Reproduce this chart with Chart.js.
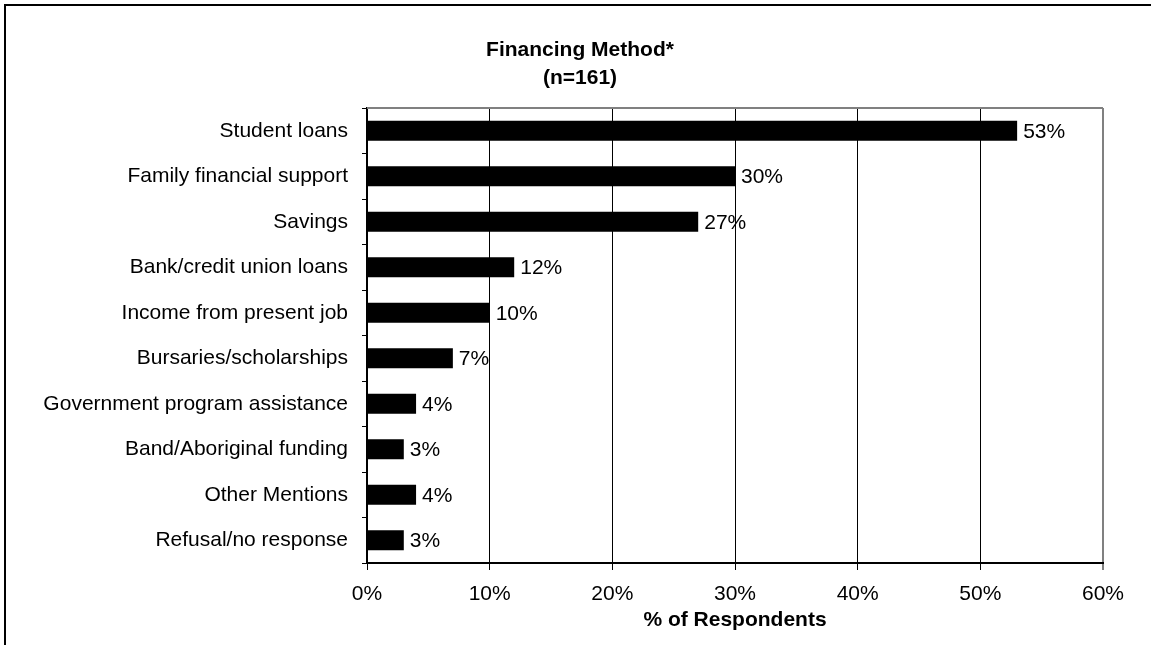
<!DOCTYPE html>
<html>
<head>
<meta charset="utf-8">
<title>Financing Method</title>
<script src="https://cdn.jsdelivr.net/npm/chart.js@4"></script>
<style>
  html, body { margin: 0; padding: 0; background: #fff; }
  #wrap { width: 1151px; height: 645px; }
</style>
</head>
<body>
<div id="wrap"><canvas id="chart" width="1151" height="645"></canvas></div>
<script>
// Survey answers: how respondents financed their studies (multiple mentions allowed)
const categories = [
  'Student loans',
  'Family financial support',
  'Savings',
  'Bank/credit union loans',
  'Income from present job',
  'Bursaries/scholarships',
  'Government program assistance',
  'Band/Aboriginal funding',
  'Other Mentions',
  'Refusal/no response'
];
const shares = [53, 30, 27, 12, 10, 7, 4, 3, 4, 3];
const titleLines = ['Financing Method*', '(n=161)'];
const axisTitle = '% of Respondents';
const xMin = 0;
const xMax = 60;
const xStep = 10;

const FONT = '"Liberation Sans", Arial, Helvetica, sans-serif';

// White page, black frame along the left and top edges, and the two-line heading
const pageFrame = {
  id: 'pageFrame',
  beforeDraw(chart) {
    const ctx = chart.ctx;
    ctx.save();
    ctx.fillStyle = '#fff';
    ctx.fillRect(0, 0, chart.width, chart.height);
    ctx.strokeStyle = '#000';
    ctx.lineWidth = 2;
    ctx.beginPath();
    ctx.moveTo(5, chart.height);
    ctx.lineTo(5, 5);
    ctx.lineTo(chart.width, 5);
    ctx.stroke();

    ctx.fillStyle = '#000';
    ctx.font = 'bold 21px ' + FONT;
    ctx.textAlign = 'center';
    ctx.textBaseline = 'middle';
    const cx = (5 + chart.width) / 2 + 2;
    titleLines.forEach((line, i) => ctx.fillText(line, cx, 50 + i * 28));
    ctx.restore();
  }
};

// Grey upper edge of the plot area and the value printed after each bar
const barValues = {
  id: 'barValues',
  afterDatasetsDraw(chart) {
    const ctx = chart.ctx;
    const area = chart.chartArea;
    ctx.save();
    ctx.strokeStyle = '#808080';
    ctx.lineWidth = 2;
    ctx.beginPath();
    ctx.moveTo(area.left, area.top);
    ctx.lineTo(area.right, area.top);
    ctx.stroke();

    ctx.fillStyle = '#000';
    ctx.font = '21px ' + FONT;
    ctx.textAlign = 'left';
    ctx.textBaseline = 'middle';
    chart.getDatasetMeta(0).data.forEach((bar, i) => {
      ctx.fillText(shares[i] + '%', bar.x + 6, bar.y + 1);
    });
    ctx.restore();
  }
};

new Chart(document.getElementById('chart'), {
  type: 'bar',
  data: {
    labels: categories,
    datasets: [{
      data: shares,
      backgroundColor: '#000',
      borderWidth: 0,
      barPercentage: 0.44,
      categoryPercentage: 1
    }]
  },
  options: {
    indexAxis: 'y',
    responsive: false,
    animation: false,
    events: [],
    layout: { padding: { left: 10, right: 48, top: 108, bottom: 0 } },
    plugins: {
      legend: { display: false },
      tooltip: { enabled: false },
      title: { display: false }
    },
    scales: {
      x: {
        type: 'linear',
        position: 'bottom',
        min: xMin,
        max: xMax,
        afterFit(scale) { scale.height = 82; },
        ticks: {
          stepSize: xStep,
          color: '#000',
          padding: 12,
          font: { family: FONT, size: 21 },
          callback: v => v + '%'
        },
        grid: {
          color: c => (c.tick && c.tick.value === xMax) ? '#808080' : '#000',
          lineWidth: c => (c.tick && c.tick.value === xMax) ? 2 : 1,
          tickLength: 7,
          drawTicks: true
        },
        border: { display: true, color: '#000', width: 2 },
        title: {
          display: true,
          text: axisTitle,
          color: '#000',
          font: { family: FONT, size: 21, weight: 'bold' },
          padding: { top: 0, bottom: 12 }
        }
      },
      y: {
        type: 'category',
        position: 'left',
        offset: true,
        afterFit(scale) { scale.width = 357; },
        ticks: {
          color: '#000',
          padding: 14,
          font: { family: FONT, size: 21 }
        },
        grid: {
          offset: true,
          drawOnChartArea: false,
          drawTicks: true,
          tickLength: 5,
          color: '#000',
          lineWidth: 1
        },
        border: { display: true, color: '#000', width: 2 }
      }
    }
  },
  plugins: [pageFrame, barValues]
});
</script>
</body>
</html>
